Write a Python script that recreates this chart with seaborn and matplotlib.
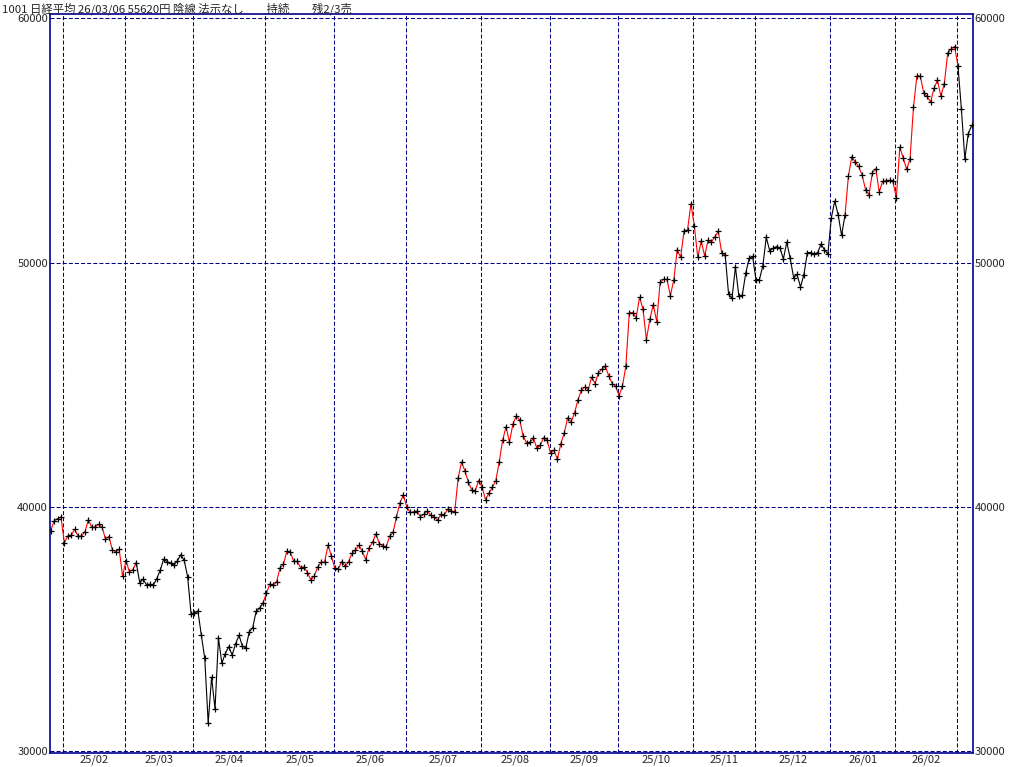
import matplotlib
matplotlib.use("Agg")
import matplotlib.pyplot as plt
import matplotlib.transforms as mtransforms
import seaborn as sns
import pandas as pd
import numpy as np

# 日経平均 日足終値 (2025/01/28 - 2026/03/06)
title = "1001 日経平均 26/03/06 55620円 陰線 法示なし　　持続　　残2/3売"

month_keys = ["2025-01", "2025-02", "2025-03", "2025-04", "2025-05", "2025-06", "2025-07",
              "2025-08", "2025-09", "2025-10", "2025-11", "2025-12", "2026-01", "2026-02", "2026-03"]
month_days = [
    [28, 29, 30, 31],
    [3, 4, 5, 6, 7, 10, 12, 13, 14, 17, 18, 19, 20, 21, 25, 26, 27, 28],
    [3, 4, 5, 6, 7, 10, 11, 12, 13, 14, 17, 18, 19, 21, 24, 25, 26, 27, 28, 31],
    [1, 2, 3, 4, 7, 8, 9, 10, 11, 14, 15, 16, 17, 18, 21, 22, 23, 24, 25, 28, 30],
    [1, 2, 7, 8, 9, 12, 13, 14, 15, 16, 19, 20, 21, 22, 23, 26, 27, 28, 29, 30],
    [2, 3, 4, 5, 6, 9, 10, 11, 12, 13, 16, 17, 18, 19, 20, 23, 24, 25, 26, 27, 30],
    [1, 2, 3, 4, 7, 8, 9, 10, 11, 14, 15, 16, 17, 18, 22, 23, 24, 25, 28, 29, 30, 31],
    [1, 4, 5, 6, 7, 8, 12, 13, 14, 15, 18, 19, 20, 21, 22, 25, 26, 27, 28, 29],
    [1, 2, 3, 4, 5, 8, 9, 10, 11, 12, 16, 17, 18, 19, 22, 24, 25, 26, 29, 30],
    [1, 2, 3, 6, 7, 8, 9, 10, 14, 15, 16, 17, 20, 21, 22, 23, 24, 27, 28, 29, 30, 31],
    [4, 5, 6, 7, 10, 11, 12, 13, 14, 17, 18, 19, 20, 21, 25, 26, 27, 28],
    [1, 2, 3, 4, 5, 8, 9, 10, 11, 12, 15, 16, 17, 18, 19, 22, 23, 24, 25, 26, 29, 30],
    [5, 6, 7, 8, 9, 13, 14, 15, 16, 19, 20, 21, 22, 23, 26, 27, 28, 29, 30],
    [2, 3, 4, 5, 6, 9, 10, 12, 13, 16, 17, 18, 19, 20, 24, 25, 26, 27],
    [2, 3, 4, 5, 6],
]
closes = [
    39016, 39414, 39513, 39572,
    38520, 38798, 38831, 39066, 38787, 38801, 38963, 39461, 39149, 39174, 39270, 39164, 38678, 38776,
    38237, 38142, 38256, 37155,
    37785, 37331, 37418, 37704, 36887, 37028, 36793, 36819, 36790, 37053, 37396, 37845, 37751, 37677,
    37608, 37780, 38027, 37799, 37120, 35617,
    35624, 35725, 34736, 33781, 31136, 33012, 31714, 34609, 33586, 33982, 34267, 33920, 34377, 34730,
    34280, 34220, 34868, 35039, 35705, 35840, 36045,
    36452, 36831, 36780, 36928, 37503, 37644, 38183, 38128, 37755, 37754, 37499, 37529, 37299, 36985,
    37160, 37532, 37724, 37722, 38432, 37965,
    37470, 37446, 37747, 37554, 37741, 38089, 38212, 38421, 38173, 37834, 38311, 38536, 38885, 38488,
    38403, 38354, 38790, 38942, 39584, 40150, 40487,
    39986, 39762, 39785, 39810, 39587, 39688, 39821, 39646, 39569, 39459, 39678, 39663, 39901, 39819,
    39775, 41171, 41826, 41456, 40998, 40674, 40654, 41069,
    40799, 40290, 40549, 40794, 41059, 41820, 42718, 43274, 42649, 43378, 43714, 43546, 42888, 42610,
    42633, 42807, 42394, 42520, 42829, 42718,
    42188, 42310, 41938, 42580, 43018, 43643, 43459, 43837, 44372, 44768, 44902, 44790, 45303, 45045,
    45493, 45630, 45754, 45354, 45043, 44932,
    44550, 44936, 45769, 47944, 47950, 47734, 48580, 48088, 46847, 47672, 48277, 47582, 49185, 49316,
    49307, 48641, 49299, 50512, 50219, 51307, 51325, 52411,
    51497, 50212, 50883, 50276, 50911, 50842, 51063, 51281, 50376, 50323, 48702, 48537, 49823, 48625,
    48659, 49559, 50167, 50253,
    49303, 49303, 49864, 51028, 50491, 50581, 50655, 50602, 50148, 50837, 50168, 49383, 49512, 49001,
    49507, 50402, 50412, 50345, 50408, 50750, 50526, 50339,
    51832, 52518, 51961, 51117, 51939, 53549, 54341, 54110, 53936, 53583, 52991, 52774, 53688, 53846,
    52885, 53333, 53358, 53375, 53322,
    52655, 54720, 54293, 53818, 54253, 56363, 57650, 57639, 56941, 56806, 56566, 57143, 57467, 56825,
    57321, 58583, 58753, 58850,
    58057, 56279, 54245, 55278, 55620,
]
# 赤線 (保有中) の期間: 開始日 -> 終了日
red_spans = [("2025-01-28", "2025-03-06"), ("2025-04-30", "2025-11-17"), ("2026-01-09", "2026-03-02")]
month_labels = ["25/02", "25/03", "25/04", "25/05", "25/06", "25/07", "25/08",
                "25/09", "25/10", "25/11", "25/12", "26/01", "26/02"]
y_ticks = [30000, 40000, 50000, 60000]

sns.set_theme(style="white")
plt.rcParams['font.family'] = ['Noto Sans CJK JP', 'DejaVu Sans']
plt.rcParams['lines.scale_dashes'] = False

dates = pd.to_datetime([f"{m}-{d:02d}" for m, days in zip(month_keys, month_days) for d in days])
df = pd.DataFrame({"date": dates, "close": closes})
df["idx"] = np.arange(len(df))

fig = plt.figure(figsize=(10.24, 7.67), dpi=100)
fig.patch.set_facecolor("white")
W, H = 1024, 767
ax = fig.add_axes([50 / W, 1 - 753 / H, (972.7 - 50) / W, (753 - 14) / H])
ax.set_facecolor("white")

navy = "#000080"
dash = (2.9, 1.5)

# グリッド
for v in y_ticks:
    ax.axhline(v, color=navy, lw=0.75, dashes=dash, zorder=1)
month_start = df.groupby(df.date.dt.to_period("M"))["idx"].min().values
grid_x = [i - 0.3 for i in month_start[1:]]
for gx in grid_x:
    ax.axvline(gx, color=navy, lw=0.75, dashes=dash, zorder=1)

# 線分の色分け
seg_red = np.zeros(len(df) - 1, bool)
for a, b in red_spans:
    ia = df.index[df.date == pd.Timestamp(a)][0]
    ib = df.index[df.date == pd.Timestamp(b)][0]
    seg_red[ia:ib] = True
start = 0
for k in range(1, len(seg_red) + 1):
    if k == len(seg_red) or seg_red[k] != seg_red[start]:
        part = df.iloc[start:k + 1]
        sns.lineplot(data=part, x="idx", y="close", color="#ff0000" if seg_red[start] else "black",
                     lw=0.8, ax=ax, estimator=None, legend=False, zorder=2)
        start = k

sns.scatterplot(data=df, x="idx", y="close", marker="+", s=13, color="black",
                linewidth=0.9, ax=ax, legend=False, zorder=3)

ax.set_xlim(-0.2, 269.3)
ax.set_ylim(29906, 60184)
ax.set_xlabel("")
ax.set_ylabel("")
ax.set_xticks([])
ax.set_yticks(y_ticks)
ax.set_yticklabels([str(v) for v in y_ticks])
ax.tick_params(axis="y", length=0, pad=1.5, labelsize=8, labelleft=True, labelright=True)
for sp in ax.spines.values():
    sp.set_color("#000090")
    sp.set_linewidth(1.2)
    sp.set_visible(True)

# 月ラベル
trans = mtransforms.blended_transform_factory(ax.transData, ax.transAxes)
bounds = grid_x
for lab, a, b in zip(month_labels, bounds[:-1], bounds[1:]):
    ax.text((a + b) / 2, -7 / 739, lab, transform=trans, ha="center", va="center", fontsize=8)

fig.text(2 / W, 1 - 8.5 / H, title, ha="left", va="center", fontsize=8.2)

fig.savefig("out.png", dpi=100)
